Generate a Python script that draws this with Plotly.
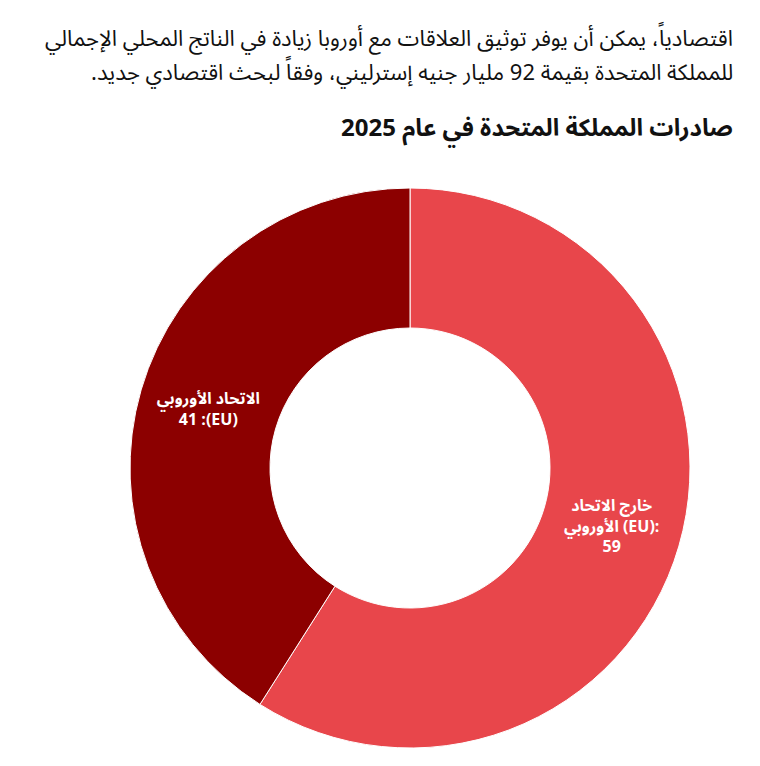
import plotly.graph_objects as go

RLE = "\u202b"
PDF = "\u202c"

# data (listed in drawing order, clockwise from 12 o'clock)
labels = ["خارج الاتحاد الأوروبي (EU)", "الاتحاد الأوروبي (EU)"]
values = [59, 41]
colors = ["#e8464b", "#8c0000"]

intro_lines = [
    "اقتصادياً، يمكن أن يوفر توثيق العلاقات مع أوروبا زيادة في الناتج المحلي الإجمالي",
    "للمملكة المتحدة بقيمة 92 مليار جنيه إسترليني، وفقاً لبحث اقتصادي جديد.",
]
chart_title = "صادرات المملكة المتحدة في عام 2025"

FONT = "Noto Sans Arabic, DejaVu Sans, sans-serif"

slice_text = [
    "<b>خارج الاتحاد<br>الأوروبي (EU):<br>" + str(values[0]) + "</b>",
    "<b>الاتحاد الأوروبي<br>" + RLE + "(EU): " + str(values[1]) + PDF + "</b>",
]

fig = go.Figure(go.Pie(
    labels=labels,
    values=values,
    text=slice_text,
    textinfo="text",
    textposition="inside",
    insidetextorientation="horizontal",
    textfont=dict(family=FONT, size=16, color="white"),
    marker=dict(colors=colors, line=dict(color="white", width=1)),
    hole=0.5,
    sort=False,
    direction="clockwise",
    rotation=0,
    hoverinfo="skip",
))

# plot area in page px (page has an 8px offset): x 122..682, y 180..740
def px_to_paper_y(y):
    return (740 - y) / 560

def px_to_paper_x(x):
    return (x - 122) / 560

annotations = []
for i, line in enumerate(intro_lines):
    annotations.append(dict(
        text=RLE + line + PDF,
        x=px_to_paper_x(727), y=px_to_paper_y(31 + 34 * i),
        xref="paper", yref="paper", xanchor="right", yanchor="middle",
        showarrow=False, align="right",
        font=dict(family=FONT, size=22, color="#111111"),
    ))
annotations.append(dict(
    text="<b>" + RLE + chart_title + PDF + "</b>",
    x=px_to_paper_x(727), y=px_to_paper_y(121),
    xref="paper", yref="paper", xanchor="right", yanchor="middle",
    showarrow=False, align="right",
    font=dict(family=FONT, size=24, color="#111111"),
))

fig.update_layout(
    width=760,
    height=766,
    margin=dict(l=122, r=78, t=180, b=26),
    paper_bgcolor="white",
    plot_bgcolor="white",
    showlegend=False,
    annotations=annotations,
)

fig.write_html("out.html")
